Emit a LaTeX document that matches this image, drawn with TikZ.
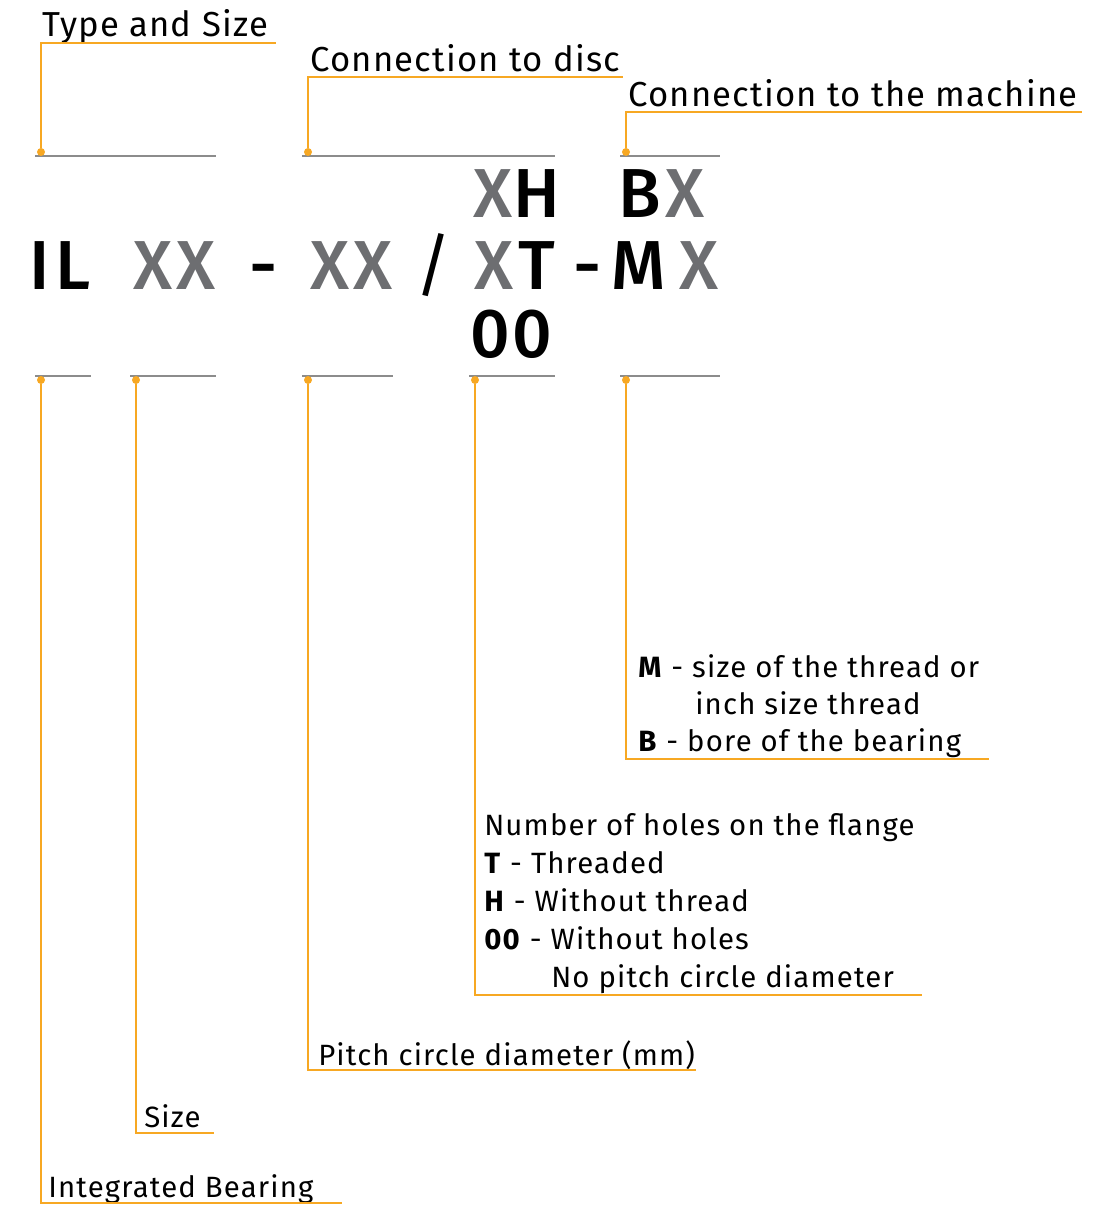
\documentclass[tikz,border=0pt]{standalone}
\usepackage{fontspec}
\setmainfont{Fira Sans}
\newfontfamily\medf{Fira Sans Medium}
\definecolor{org}{HTML}{F7A823}
\definecolor{gx}{HTML}{6D6E71}
\definecolor{gl}{HTML}{8C8C8C}
\begin{document}
\begin{tikzpicture}[x=0.75pt,y=-0.75pt,
  lead/.style={draw=org,line width=1.1pt},
  rulel/.style={draw=gl,line width=1.4pt},
  dot/.style={circle,fill=org,inner sep=0pt,minimum size=6pt},
  lbl/.style={anchor=base west,inner sep=0pt,font=\fontsize{26}{30}\selectfont\addfontfeature{LetterSpace=3.5}},
  sml/.style={anchor=base west,inner sep=0pt,font=\fontsize{22}{27}\selectfont\addfontfeature{LetterSpace=4}},
  big/.style={anchor=base,inner sep=0pt,font=\fontsize{52}{60}\medf},
  bigg/.style={big,text=gx},
]
\useasboundingbox (0,0) rectangle (1109,1205);

% gray rules
\draw[rulel] (35,156) -- (216,156);
\draw[rulel] (302,156) -- (555,156);
\draw[rulel] (620,156) -- (720,156);
\draw[rulel] (35,376) -- (91,376);
\draw[rulel] (130,376) -- (216,376);
\draw[rulel] (302,376) -- (393,376);
\draw[rulel] (469,376) -- (555,376);
\draw[rulel] (620,376) -- (720,376);

% big code letters
\node[big]  (cI)  at (40,290) {I};
\node[big]  (cL)  at (73,290) {L};
\node[bigg] (cX1) at (153,290) {X};
\node[bigg] (cX2) at (196,290) {X};
\node[big]  (cD1) at (264,290) {-};
\node[bigg] (cX3) at (330,290) {X};
\node[bigg] (cX4) at (373,290) {X};
\node[anchor=base,inner sep=0pt,font=\fontsize{52}{60}\selectfont] (cS) at (434,290) {/};
\node[bigg] (cX5) at (494,290) {X};
\node[big]  (cT)  at (537,290) {T};
\node[big]  (cD2) at (588,290) {-};
\node[big]  (cM)  at (639,290) {M};
\node[bigg] (cX6) at (699,290) {X};
\node[bigg] (cX7) at (493,218) {X};
\node[big]  (cH)  at (537,218) {H};
\node[big]  (cB)  at (640,218) {B};
\node[bigg] (cX8) at (685,218) {X};
\node[big]  (c0a) at (490,357) {0};
\node[big]  (c0b) at (532,357) {0};

% dots
\node[dot] (u1) at (41,152) {};
\node[dot] (u2) at (308,152) {};
\node[dot] (u3) at (626,152) {};
\node[dot] (b1) at (41,380) {};
\node[dot] (b2) at (136,380) {};
\node[dot] (b3) at (308,380) {};
\node[dot] (b4) at (475,380) {};
\node[dot] (b5) at (626,380) {};

% top labels
\node[lbl] (tTS) at (42,37) {Type and Size};
\coordinate (eTS) at (276,43);
\draw[lead] (u1) |- (eTS);
\node[lbl] (tCD) at (310,72) {Connection to disc};
\coordinate (eCD) at (623,77);
\draw[lead] (u2) |- (eCD);
\node[lbl] (tCM) at (628,107) {Connection to the machine};
\coordinate (eCM) at (1082,112);
\draw[lead] (u3) |- (eCM);

% machine block
\node[sml] (m1) at (638,677) {\textbf{M} - size of the thread or};
\node[sml] (m2) at (695,714) {inch size thread};
\node[sml] (m3) at (638,751) {\textbf{B} - bore of the bearing};
\coordinate (eM) at (989,759);
\draw[lead] (b5) |- (eM);

% holes block
\node[sml] (h1) at (484,835) {Number of holes on the flange};
\node[sml] (h2) at (484,873) {\textbf{T} - Threaded};
\node[sml] (h3) at (484,911) {\textbf{H} - Without thread};
\node[sml] (h4) at (484,949) {\textbf{00} - Without holes};
\node[sml] (h5) at (551,987) {No pitch circle diameter};
\coordinate (eH) at (922,995);
\draw[lead] (b4) |- (eH);

% bottom labels
\node[sml] (tP) at (318,1065) {Pitch circle diameter (mm)};
\coordinate (eP) at (696,1070);
\draw[lead] (b3) |- (eP);
\node[sml] (tS) at (144,1127) {Size};
\coordinate (eS) at (214,1133);
\draw[lead] (b2) |- (eS);
\node[sml] (tI) at (48,1197) {Integrated Bearing};
\coordinate (eI) at (342,1203);
\draw[lead] (b1) |- (eI);
\end{tikzpicture}
\end{document}
